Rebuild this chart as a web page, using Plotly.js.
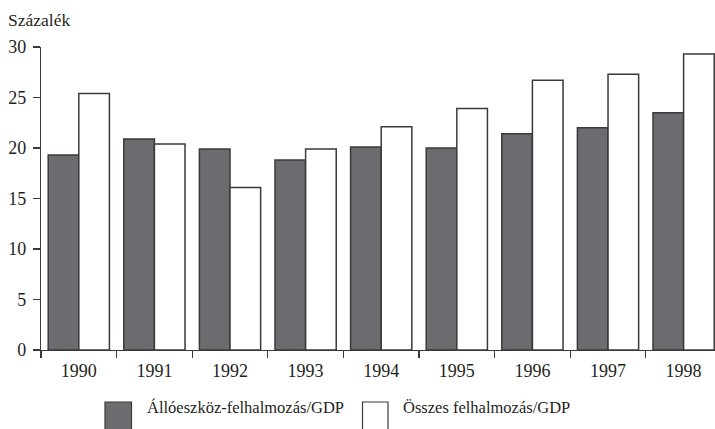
<!DOCTYPE html>
<html>
<head>
<meta charset="utf-8">
<script src="https://cdn.plot.ly/plotly-3.0.1.min.js"></script>
<style>html,body{margin:0;padding:0;background:#fff;}#chart{width:715px;height:429px;}</style>
</head>
<body>
<div id="chart"></div>
<script>
const years = ['1990','1991','1992','1993','1994','1995','1996','1997','1998'];
const fixedCapital = [19.3, 20.9, 19.9, 18.8, 20.1, 20.0, 21.4, 22.0, 23.5];
const totalCapital = [25.4, 20.4, 16.1, 19.9, 22.1, 23.9, 26.7, 27.3, 29.3];
const seriesNames = ['Állóeszköz-felhalmozás/GDP', 'Összes felhalmozás/GDP'];
const yTicks = [0, 5, 10, 15, 20, 25, 30];
const yTitle = 'Százalék';

const fam = '"Liberation Serif", "Times New Roman", serif';
const tickFont = {family: fam, size: 18, color: '#231f20'};
const titleFont = {family: fam, size: 17.5, color: '#231f20'};
const legFont = {family: fam, size: 16.5, color: '#231f20'};
const darkFill = '#6b6c70';
const edge = '#3a3a3a';

const traces = [
  {type: 'bar', name: seriesNames[0], x: years, y: fixedCapital,
   marker: {color: darkFill, line: {color: edge, width: 1.5}}, showlegend: false, hoverinfo: 'x+y'},
  {type: 'bar', name: seriesNames[1], x: years, y: totalCapital,
   marker: {color: '#ffffff', line: {color: edge, width: 1.5}}, showlegend: false, hoverinfo: 'x+y'}
];

const layout = {
  width: 715, height: 429,
  margin: {l: 41, r: 0, t: 47, b: 79, pad: 0},
  paper_bgcolor: '#fff', plot_bgcolor: '#fff',
  font: tickFont,
  barmode: 'group', bargap: 0.19, bargroupgap: 0,
  xaxis: {
    type: 'category', range: [-0.5, 8.415], tickson: 'boundaries',
    ticks: 'outside', ticklen: 7, tickwidth: 1.2, tickcolor: edge,
    ticklabelstandoff: 4,
    showline: true, linecolor: edge, linewidth: 1.2,
    showgrid: false, zeroline: false, tickfont: tickFont, fixedrange: true
  },
  yaxis: {
    range: [0, 30], tickvals: yTicks, ticktext: yTicks.map(String),
    ticks: 'outside', ticklen: 7, tickwidth: 1.2, tickcolor: edge,
    ticklabelstandoff: 3,
    showline: true, linecolor: edge, linewidth: 1.2,
    showgrid: false, zeroline: false, tickfont: tickFont, fixedrange: true
  },
  annotations: [
    {text: yTitle, xref: 'paper', yref: 'paper', x: -41/674, y: 1, yshift: 27,
     xanchor: 'left', yanchor: 'middle', showarrow: false, font: titleFont, xshift: 6},
    {text: seriesNames[0], xref: 'paper', yref: 'paper', x: (145-41)/674, y: 0, yshift: -57,
     xanchor: 'left', yanchor: 'middle', showarrow: false, font: legFont},
    {text: seriesNames[1], xref: 'paper', yref: 'paper', x: (401-41)/674, y: 0, yshift: -57,
     xanchor: 'left', yanchor: 'middle', showarrow: false, font: legFont}
  ],
  shapes: [
    {type: 'rect', xref: 'paper', yref: 'paper',
     x0: (105-41)/674, x1: (131.5-41)/674, y0: -(432-350)/303, y1: -(402-350)/303,
     fillcolor: darkFill, line: {color: edge, width: 1.2}},
    {type: 'rect', xref: 'paper', yref: 'paper',
     x0: (362.5-41)/674, x1: (388-41)/674, y0: -(432-350)/303, y1: -(402-350)/303,
     fillcolor: '#ffffff', line: {color: edge, width: 1.2}}
  ]
};

Plotly.newPlot('chart', traces, layout, {staticPlot: true, displayModeBar: false});
</script>
</body>
</html>
